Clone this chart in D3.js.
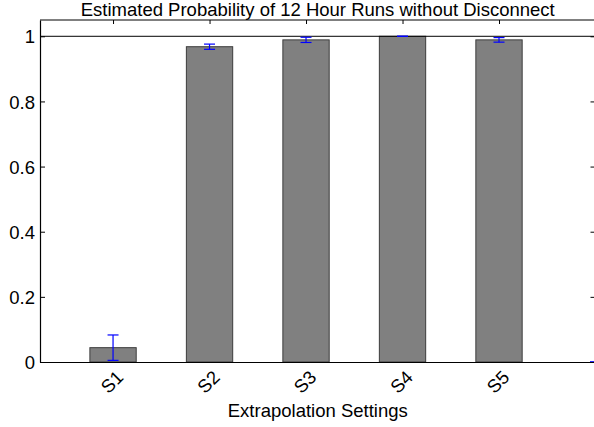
<!DOCTYPE html>
<html>
<head>
<meta charset="utf-8">
<script src="https://cdn.jsdelivr.net/npm/d3@7"></script>
<style>
  body { margin: 0; background: #fff; }
  svg { display: block; font-family: "Liberation Sans", Arial, sans-serif; }
</style>
</head>
<body>
<svg width="594" height="427"></svg>
<script>
// bar data
var categories = ["S1", "S2", "S3", "S4", "S5"];
var probs = [0.044, 0.968, 0.989, 1.0, 0.989];
var errs = [0.039, 0.008, 0.008, 0.0, 0.007];
// trailing errorbar sitting on the x axis at x = 6
var extraErrX = [6];
var extraErrY = [0];
var yTicks = [0, 0.2, 0.4, 0.6, 0.8, 1];

document.addEventListener("DOMContentLoaded", function () {
  var svg = d3.select("svg");
  var left = 40, right = 595.5, top = 20, bottom = 362;

  var x = d3.scaleLinear().domain([0.243, 6]).range([left, right]);
  var y = d3.scaleLinear().domain([0, 1.05]).range([bottom, top]);
  var barW = x(1.48) - x(1);

  var bars = categories.map(function (c, i) {
    return { cat: c, pos: i + 1, val: probs[i], err: errs[i] };
  });

  // bars
  svg.append("g")
    .selectAll("rect")
    .data(bars)
    .enter()
    .append("rect")
    .attr("x", function (d) { return x(d.pos) - barW / 2; })
    .attr("y", function (d) { return y(d.val); })
    .attr("width", barW)
    .attr("height", function (d) { return y(0) - y(d.val); })
    .style("fill", "#808080")
    .style("stroke", "#3c3c3c")
    .style("stroke-width", 1);

  // reference line at 1
  svg.append("line")
    .attr("x1", left).attr("x2", right)
    .attr("y1", y(1)).attr("y2", y(1))
    .style("stroke", "#000").style("stroke-width", 1);

  // error bars
  var errData = bars.map(function (d) { return { pos: d.pos, val: d.val, err: d.err }; })
    .concat(extraErrX.map(function (p, i) { return { pos: p, val: extraErrY[i], err: 0 }; }));
  var eg = svg.append("g").style("stroke", "#0000ff").style("stroke-width", 1.2);
  var cap = 5.5;
  errData.forEach(function (d) {
    var cx = x(d.pos);
    eg.append("line").attr("x1", cx).attr("x2", cx)
      .attr("y1", y(d.val + d.err)).attr("y2", y(d.val - d.err));
    eg.append("line").attr("x1", cx - cap).attr("x2", cx + cap)
      .attr("y1", y(d.val + d.err)).attr("y2", y(d.val + d.err));
    eg.append("line").attr("x1", cx - cap).attr("x2", cx + cap)
      .attr("y1", y(d.val - d.err)).attr("y2", y(d.val - d.err));
  });

  // axes box
  svg.append("g")
    .attr("transform", "translate(0," + bottom + ")")
    .call(d3.axisBottom(x).tickValues([]).tickSizeOuter(0))
    .select(".domain").style("stroke-width", 1.2);
  svg.append("line")
    .attr("x1", left).attr("x2", right).attr("y1", top).attr("y2", top)
    .style("stroke", "#000");

  // top ticks (inward)
  svg.append("g")
    .attr("transform", "translate(0," + top + ")")
    .call(d3.axisBottom(x).tickValues(d3.range(1, 6)).tickSize(4).tickFormat("").tickSizeOuter(0))
    .call(function (g) { g.select(".domain").remove(); });

  // left axis
  var yl = svg.append("g")
    .attr("transform", "translate(" + left + ",0)")
    .call(d3.axisLeft(y).tickValues(yTicks).tickSize(-5).tickPadding(5).tickSizeOuter(0)
      .tickFormat(function (d) { return d3.format("")(d); }));
  yl.selectAll("text").style("font-size", "18.5px").style("fill", "#000")
    .attr("dy", "0.36em");
  yl.select(".domain").style("stroke-width", 1.2);

  // right ticks (inward)
  svg.append("g")
    .attr("transform", "translate(" + right + ",0)")
    .call(d3.axisRight(y).tickValues(yTicks).tickSize(-5).tickFormat("").tickSizeOuter(0))
    .call(function (g) { g.select(".domain").remove(); });

  // category labels, rotated
  svg.append("g")
    .selectAll("text")
    .data(bars)
    .enter()
    .append("text")
    .attr("transform", function (d) {
      return "translate(" + (x(d.pos) + 7) + "," + (bottom + 12) + ") rotate(-45)";
    })
    .style("text-anchor", "end")
    .style("font-size", "18.5px")
    .attr("dy", "0.35em")
    .text(function (d) { return d.cat; });

  // title and x label
  svg.append("text")
    .attr("x", (left + right) / 2).attr("y", 16)
    .style("text-anchor", "middle").style("font-size", "18.5px")
    .text("Estimated Probability of 12 Hour Runs without Disconnect");

  svg.append("text")
    .attr("x", (left + right) / 2).attr("y", 417)
    .style("text-anchor", "middle").style("font-size", "18.5px")
    .text("Extrapolation Settings");
});
</script>
</body>
</html>
